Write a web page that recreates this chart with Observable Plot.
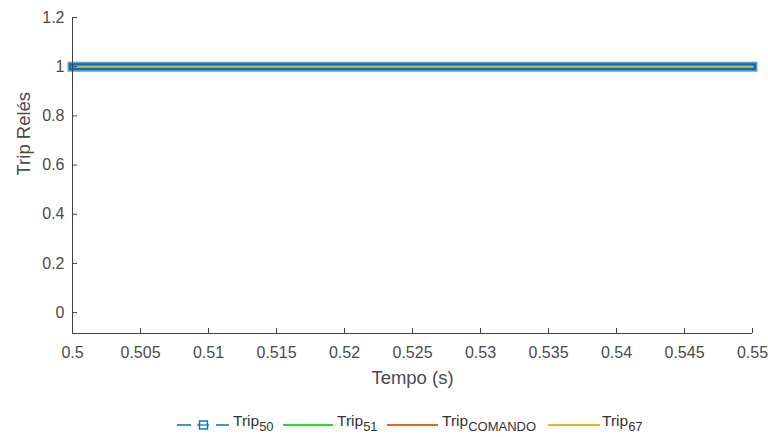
<!DOCTYPE html>
<html>
<head>
<meta charset="utf-8">
<script src="https://cdn.jsdelivr.net/npm/d3@7"></script>
<script src="https://cdn.jsdelivr.net/npm/@observablehq/plot@0.6"></script>
<style>
  html, body { margin: 0; padding: 0; background: #fff; }
  body { width: 768px; height: 437px; overflow: hidden; font-family: "Liberation Sans", Arial, sans-serif; }
  #legend { position: relative; height: 32px; width: 768px; color: #333; }
  .sw { position: absolute; top: 0; left: 0; }
  .txt { position: absolute; top: 8px; font-size: 15.5px; white-space: nowrap; line-height: 15px; }
  .txt sub { font-size: 13px; position: relative; top: 5px; vertical-align: baseline; line-height: 0; }
</style>
</head>
<body>
<div id="chart"></div>
<div id="legend"></div>
<script>
// Data
const tempo = [0.5, 0.55];
const trip50 = [1, 1];
const trip51 = [1, 1];
const tripComando = [1, 1];
const trip67 = [1, 1];
const xTicks = [0.5, 0.505, 0.51, 0.515, 0.52, 0.525, 0.53, 0.535, 0.54, 0.545, 0.55];
const xTickLabels = ["0.5", "0.505", "0.51", "0.515", "0.52", "0.525", "0.53", "0.535", "0.54", "0.545", "0.55"];
const yTicks = [0, 0.2, 0.4, 0.6, 0.8, 1, 1.2];
const yTickLabels = ["0", "0.2", "0.4", "0.6", "0.8", "1", "1.2"];
const seriesNames = ["50", "51", "COMANDO", "67"];
const seriesColors = ["#0072BD", "#22e02a", "#E8622C", "#EDB120"];

const mk = (vals) => tempo.map((t, i) => ({t, v: vals[i]}));
const d50 = mk(trip50), d51 = mk(trip51), dCom = mk(tripComando), d67 = mk(trip67);

const axisColor = "#404040";
const textColor = "#4a4a4a";
const xDomain = [0.5, 0.55];
const yDomain = [-0.085, 1.2];

const chart = Plot.plot({
  width: 768,
  height: 405,
  marginLeft: 72,
  marginRight: 16,
  marginTop: 17,
  marginBottom: 72,
  style: { fontFamily: "'Liberation Sans', Arial, sans-serif", fontSize: "16px", color: textColor, background: "#fff" },
  x: { domain: xDomain, label: null },
  y: { domain: yDomain, label: null },
  marks: [
    // blue band (Trip50 with dense square markers)
    Plot.line(d50, {x: "t", y: "v", stroke: "#5aa0d8", strokeWidth: 10, strokeLinecap: "square"}),
    Plot.line(d50, {x: "t", y: "v", stroke: seriesColors[0], strokeWidth: 7, strokeLinecap: "square"}),
    Plot.line(d51, {x: "t", y: "v", stroke: seriesColors[1], strokeWidth: 2}),
    Plot.line(dCom, {x: "t", y: "v", stroke: seriesColors[2], strokeWidth: 2}),
    Plot.line(d67, {x: "t", y: "v", stroke: "#b9a43a", strokeWidth: 2.5}),
    Plot.line(d67, {x: "t", y: "v", stroke: seriesColors[3], strokeWidth: 1.2, strokeOpacity: 0.6}),
    // axes lines
    Plot.ruleY([yDomain[0]], {stroke: axisColor, strokeWidth: 1}),
    Plot.ruleX([xDomain[0]], {stroke: axisColor, strokeWidth: 1}),
    // inward ticks
    Plot.axisX({ticks: xTicks, tickSize: 5, dy: -5, text: null, stroke: axisColor}),
    Plot.axisX({ticks: xTicks, tickSize: 0, tickPadding: 13, tickFormat: (d, i) => xTickLabels[i], fill: textColor, fontSize: 16}),
    Plot.axisY({ticks: yTicks, tickSize: 5, anchor: "left", dx: 5, text: null, stroke: axisColor}),
    Plot.axisY({ticks: yTicks, tickSize: 0, anchor: "left", tickPadding: 8, tickFormat: (d, i) => yTickLabels[i], fill: textColor, fontSize: 16}),
    // axis labels
    Plot.text(["Tempo (s)"], {frameAnchor: "bottom", dy: 50, fontSize: 18.5, fill: textColor}),
    Plot.text(["Trip Relés"], {frameAnchor: "left", dx: -48, rotate: -90, fontSize: 18.5, fill: textColor})
  ]
});
document.getElementById("chart").appendChild(chart);

// Legend
const legend = document.getElementById("legend");
const lineY = 20;
let svg = `<svg class="sw" width="768" height="32">`;
// Trip50: dashed with square marker
svg += `<line x1="177" x2="191" y1="${lineY}" y2="${lineY}" stroke="${seriesColors[0]}" stroke-width="1.5"/>`;
svg += `<line x1="197" x2="209" y1="${lineY}" y2="${lineY}" stroke="${seriesColors[0]}" stroke-width="1.2"/>`;
svg += `<rect x="199.5" y="${lineY - 4}" width="8" height="8" fill="none" stroke="${seriesColors[0]}" stroke-width="1.4"/>`;
svg += `<line x1="216" x2="229" y1="${lineY}" y2="${lineY}" stroke="${seriesColors[0]}" stroke-width="1.5"/>`;
// others
const lineSpans = [[283, 333], [387, 438], [548, 600]];
lineSpans.forEach(([a, b], i) => {
  svg += `<line x1="${a}" x2="${b}" y1="${lineY}" y2="${lineY}" stroke="${seriesColors[i + 1]}" stroke-width="2"/>`;
});
svg += `</svg>`;
legend.innerHTML = svg;
const textLefts = [233, 337, 442, 602];
seriesNames.forEach((name, i) => {
  const s = document.createElement("span");
  s.className = "txt";
  s.style.left = textLefts[i] + "px";
  s.innerHTML = `Trip<sub>${name}</sub>`;
  legend.appendChild(s);
});
</script>
</body>
</html>
